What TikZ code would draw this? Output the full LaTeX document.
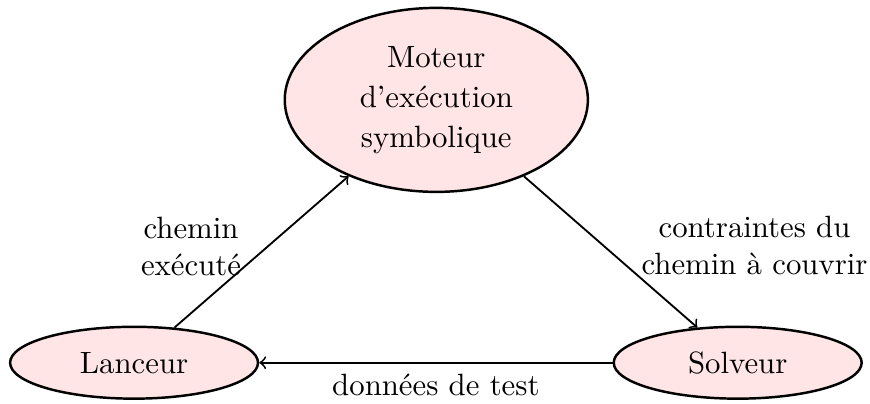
\documentclass[tikz,border=0pt]{standalone}
\usepackage{fontspec}
\usetikzlibrary{shapes.geometric}

\begin{document}
\begin{tikzpicture}[
  etape/.style={ellipse, draw, thick, fill=red!10, align=center, inner sep=1pt},
  fleche/.style={->, semithick}
]
  \useasboundingbox (0,0) rectangle (9.93,4.61);

  % Moteur
  \node[etape, minimum width=3.46cm, minimum height=2.1cm] (moteur) at (4.98,3.47)
    {Moteur\\[1pt]d'exécution\\[1pt]symbolique};

  % Lanceur
  \node[etape, minimum width=2.83cm, minimum height=0.82cm] (lanceur) at (1.53,0.47) {Lanceur};

  % Solveur
  \node[etape, minimum width=2.83cm, minimum height=0.82cm] (solveur) at (8.42,0.47) {Solveur};

  % Fleches
  \draw[fleche] (lanceur) -- (moteur)
    node[midway, left=3pt, yshift=1.8pt, align=center] {chemin\\exécuté};
  \draw[fleche] (moteur) -- (solveur)
    node[midway, right=6.4pt, yshift=2pt, align=center] {contraintes du\\chemin à couvrir};
  \draw[fleche] (solveur) -- (lanceur)
    node[midway, below] {données de test};

\end{tikzpicture}
\end{document}
